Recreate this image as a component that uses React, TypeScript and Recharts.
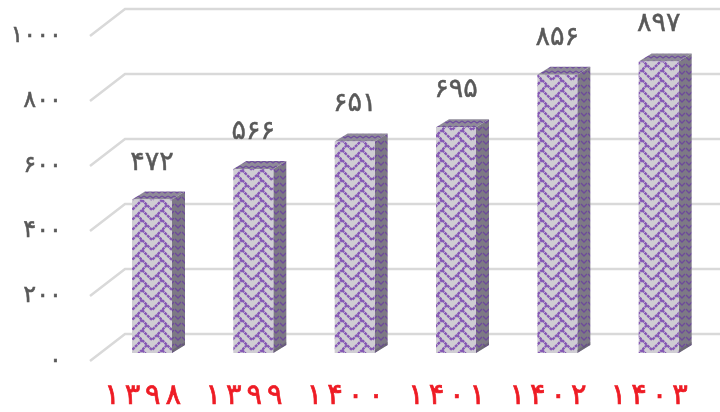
import { Bar, BarChart, CartesianGrid, LabelList, XAxis, YAxis } from "recharts"

const years = ['۱۳۹۸', '۱۳۹۹', '۱۴۰۰', '۱۴۰۱', '۱۴۰۲', '۱۴۰۳']
const counts = [472, 566, 651, 695, 856, 897]
const yTicks = [0, 200, 400, 600, 800, 1000]

const data = years.map((year, i) => ({ year, count: counts[i] }))

const toPersian = (v: number | string) =>
  String(v).replace(/\d/g, (d) => '۰۱۲۳۴۵۶۷۸۹'[Number(d)])

const WIDTH = 720
const HEIGHT = 412
const FONT = '"DejaVu Sans", sans-serif'

// depth of the fake 3d look
const DX = 13
const DY = 8

const Bar3D = (props: any) => {
  const { x, y, width, height } = props
  const r = x + width
  const b = y + height
  return (
    <g>
      <path d={`M${x} ${y} l${DX} ${-DY} h${width} l${-DX} ${DY} z`} fill="url(#weaveDark)" />
      <path d={`M${r} ${y} l${DX} ${-DY} v${height} l${-DX} ${DY} z`} fill="url(#weaveSide)" />
      <rect x={x} y={y} width={width} height={height} fill="url(#weave)" />
      <path d={`M${r} ${b} l${DX} ${-DY} v-3 l${-DX} ${DY} z`} fill="#5e5a68" opacity={0.5} />
    </g>
  )
}

const GridLine = (props: any) => {
  const { x1, y1 } = props
  // starts on the floor in front of the bars and runs along the back wall
  return (
    <path
      d={`M${x1 - 11} ${y1 + 8} L${x1 + 24} ${y1 - 19} H${WIDTH}`}
      fill="none"
      stroke="#d9d9d9"
      strokeWidth={2.5}
    />
  )
}

const YearTick = (props: any) => {
  const { x, y, payload } = props
  return (
    <text
      x={x - 9}
      y={y + 43}
      textAnchor="middle"
      textLength={77}
      lengthAdjust="spacing"
      fill="#ee1c25"
      stroke="#ee1c25"
      strokeWidth={0.7}
      fontSize={29}
      fontFamily={FONT}
    >
      {payload.value}
    </text>
  )
}

const App = () => {
  return (
    <div style={{ position: 'absolute', left: 0, top: 0, width: WIDTH, height: HEIGHT, filter: 'blur(0.5px)', overflow: 'hidden' }}>
      <BarChart
        width={WIDTH}
        height={HEIGHT}
        data={data}
        margin={{ top: 28, right: 11, bottom: 0, left: 0 }}
        barCategoryGap="60%"
      >
        <defs>
          <pattern id="weave" width="20" height="20" patternUnits="userSpaceOnUse" patternTransform="translate(2 0)">
            <rect width="20" height="20" fill="#cfcdd3" />
            <path
              d="M0 -10 L10 0 L20 -10 M0 0 L10 10 L20 0 M0 10 L10 20 L20 10 M0 20 L10 30 L20 20 M5 5 L0 10 M15 15 L20 20"
              fill="none"
              stroke="#8557b5"
              strokeWidth={2.4}
              strokeDasharray="3 0.7"
            />
          </pattern>
          <pattern id="weaveSide" width="7" height="7" patternUnits="userSpaceOnUse">
            <rect width="7" height="7" fill="#7d7985" />
            <path d="M0 1 L3 4 L6 1" fill="none" stroke="#6d4a9a" strokeWidth={1.4} />
          </pattern>
          <pattern id="weaveDark" width="6" height="5" patternUnits="userSpaceOnUse">
            <rect width="6" height="5" fill="#8f8b98" />
            <path d="M0 1 L3 3 L6 1" fill="none" stroke="#6f4d9e" strokeWidth={1.4} />
          </pattern>
        </defs>
        <CartesianGrid vertical={false} horizontal={GridLine as any} />
        <XAxis
          dataKey="year"
          axisLine={false}
          tickLine={false}
          height={59}
          interval={0}
          tick={YearTick}
        />
        <YAxis
          domain={[0, 1000]}
          ticks={yTicks}
          width={101}
          axisLine={false}
          tickLine={false}
          tickMargin={33}
          tickFormatter={toPersian}
          tick={{ fill: '#595959', stroke: '#595959', strokeWidth: 0.5, fontSize: 24, fontFamily: FONT, letterSpacing: 6, dy: 5 }}
        />
        <Bar dataKey="count" barSize={40} shape={Bar3D} isAnimationActive={false}>
          <LabelList
            dataKey="count"
            position="top"
            offset={30}
            formatter={toPersian}
            style={{ fill: '#595959', stroke: '#595959', strokeWidth: 0.5, fontSize: 27, fontFamily: FONT, letterSpacing: 1 }}
          />
        </Bar>
      </BarChart>
    </div>
  )
}

export default App
